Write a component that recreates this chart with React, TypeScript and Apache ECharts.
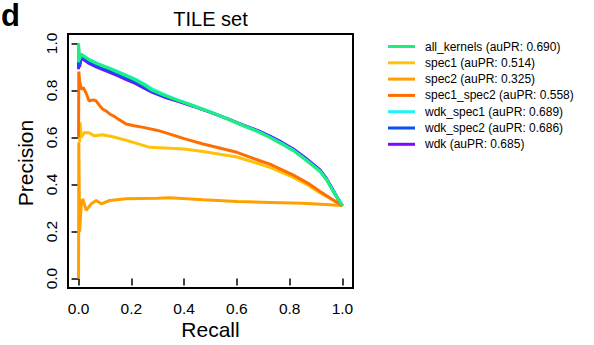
import React, { useEffect, useRef } from "react";
import * as echarts from "echarts";

const FONT = "'Liberation Sans', Arial, sans-serif";

const tickValues = [0, 0.2, 0.4, 0.6, 0.8, 1.0];

const seriesNames = [
  "all_kernels (auPR: 0.690)",
  "spec1 (auPR: 0.514)",
  "spec2 (auPR: 0.325)",
  "spec1_spec2 (auPR: 0.558)",
  "wdk_spec1 (auPR: 0.689)",
  "wdk_spec2 (auPR: 0.686)",
  "wdk (auPR: 0.685)",
];

const seriesColors = [
  "#1FEE7E",
  "#FFC20A",
  "#FFA000",
  "#FF6E00",
  "#22F4F4",
  "#0A50F5",
  "#7F0AFF",
];

// [recall, precision]
const allKernels = [
  [0, 0.92], [0, 1.0], [0.003, 0.93], [0.008, 0.955], [0.02, 0.945], [0.04, 0.93],
  [0.067, 0.915], [0.09, 0.905], [0.118, 0.893], [0.15, 0.877], [0.183, 0.861],
  [0.215, 0.845], [0.245, 0.826], [0.28, 0.8], [0.33, 0.777], [0.38, 0.757],
  [0.434, 0.735], [0.5, 0.708], [0.561, 0.68], [0.62, 0.652], [0.687, 0.621],
  [0.725, 0.6], [0.77, 0.572], [0.814, 0.544], [0.86, 0.505], [0.915, 0.455],
  [0.94, 0.42], [0.96, 0.38], [0.98, 0.345], [1.0, 0.31],
];

const spec1 = [
  [0.004, 0.58], [0.006, 0.664], [0.01, 0.6], [0.022, 0.621], [0.04, 0.62],
  [0.06, 0.607], [0.09, 0.612], [0.13, 0.603], [0.18, 0.588], [0.22, 0.575],
  [0.27, 0.558], [0.346, 0.554], [0.4, 0.551], [0.472, 0.54], [0.6, 0.517],
  [0.687, 0.487], [0.725, 0.473], [0.814, 0.43], [0.87, 0.397], [0.915, 0.364],
  [0.95, 0.343], [0.979, 0.324], [1.0, 0.31],
];

const spec2 = [
  [0, 0], [0.001, 0.58], [0.004, 0.2], [0.01, 0.31], [0.016, 0.339], [0.029, 0.29],
  [0.048, 0.318], [0.067, 0.332], [0.086, 0.318], [0.118, 0.332], [0.18, 0.339],
  [0.3, 0.342], [0.346, 0.344], [0.472, 0.335], [0.6, 0.328], [0.725, 0.324],
  [0.85, 0.32], [1.0, 0.311],
];

const spec1Spec2 = [
  [0, 0.6], [0.001, 0.88], [0.004, 0.84], [0.01, 0.805], [0.018, 0.812], [0.028, 0.79],
  [0.04, 0.755], [0.055, 0.76], [0.067, 0.755], [0.08, 0.735], [0.092, 0.72],
  [0.105, 0.712], [0.118, 0.7], [0.135, 0.69], [0.15, 0.678], [0.165, 0.668],
  [0.18, 0.657], [0.21, 0.65], [0.245, 0.643], [0.3, 0.63], [0.346, 0.614],
  [0.4, 0.595], [0.472, 0.572], [0.6, 0.537], [0.687, 0.501], [0.725, 0.487],
  [0.814, 0.44], [0.87, 0.405], [0.915, 0.37], [0.95, 0.345], [0.979, 0.325],
  [1.0, 0.31],
];

const wdkSpec1 = [
  [0, 0.92], [0, 0.99], [0.003, 0.93], [0.008, 0.955], [0.02, 0.947], [0.04, 0.932],
  [0.067, 0.917], [0.09, 0.907], [0.118, 0.895], [0.15, 0.88], [0.183, 0.864],
  [0.215, 0.848], [0.245, 0.83], [0.28, 0.806], [0.33, 0.78], [0.38, 0.758],
  [0.434, 0.736], [0.5, 0.709], [0.561, 0.681], [0.62, 0.653], [0.687, 0.622],
  [0.725, 0.601], [0.77, 0.574], [0.814, 0.545], [0.86, 0.507], [0.915, 0.457],
  [0.94, 0.421], [0.96, 0.381], [0.98, 0.345], [1.0, 0.31],
];

const wdkSpec2 = [
  [0, 0.9], [0, 0.97], [0.004, 0.91], [0.01, 0.945], [0.02, 0.936], [0.04, 0.921],
  [0.067, 0.906], [0.09, 0.896], [0.118, 0.883], [0.15, 0.868], [0.183, 0.851],
  [0.215, 0.836], [0.245, 0.817], [0.28, 0.796], [0.33, 0.773], [0.38, 0.755],
  [0.434, 0.734], [0.5, 0.708], [0.561, 0.681], [0.62, 0.654], [0.687, 0.624],
  [0.725, 0.604], [0.77, 0.577], [0.814, 0.548], [0.86, 0.51], [0.915, 0.46],
  [0.94, 0.423], [0.96, 0.383], [0.98, 0.345], [1.0, 0.31],
];

const wdk = [
  [0, 0.89], [0, 0.96], [0.004, 0.9], [0.01, 0.94], [0.02, 0.93], [0.04, 0.915],
  [0.067, 0.9], [0.09, 0.89], [0.118, 0.877], [0.15, 0.862], [0.183, 0.845],
  [0.215, 0.83], [0.245, 0.812], [0.28, 0.792], [0.33, 0.77], [0.38, 0.753],
  [0.434, 0.733], [0.5, 0.707], [0.561, 0.681], [0.62, 0.655], [0.687, 0.626],
  [0.725, 0.606], [0.77, 0.58], [0.814, 0.551], [0.86, 0.513], [0.915, 0.462],
  [0.94, 0.425], [0.96, 0.385], [0.98, 0.345], [1.0, 0.31],
];

// index into seriesNames / seriesColors, in drawing order (last on top)
const drawOrder: [number, number[][]][] = [
  [2, spec2],
  [1, spec1],
  [3, spec1Spec2],
  [6, wdk],
  [5, wdkSpec2],
  [4, wdkSpec1],
  [0, allKernels],
];

export default function App() {
  const ref = useRef<HTMLDivElement>(null);

  useEffect(() => {
    if (!ref.current) return;
    const chart = echarts.init(ref.current, null, { renderer: "svg" });

    const axisCommon = {
      type: "value" as const,
      min: -0.04,
      max: 1.04,
      splitLine: { show: false },
      axisLine: { show: false },
      axisTick: {
        show: true,
        inside: false,
        length: 7,
        customValues: tickValues,
        lineStyle: { color: "#000", width: 1.5 },
      },
    };

    chart.setOption({
      animation: false,
      backgroundColor: "#fff",
      grid: {
        left: 68,
        right: 241,
        top: 34,
        bottom: 57,
        show: true,
        borderColor: "#000",
        borderWidth: 2,
        backgroundColor: "transparent",
      },
      xAxis: {
        ...axisCommon,
        axisLabel: {
          customValues: tickValues,
          formatter: (v: number) => v.toFixed(1),
          color: "#000",
          fontSize: 15.5,
          fontFamily: FONT,
          margin: 12,
        },
      },
      yAxis: {
        ...axisCommon,
        axisLabel: {
          customValues: tickValues,
          formatter: (v: number) => v.toFixed(1),
          color: "#000",
          fontSize: 15.5,
          fontFamily: FONT,
          rotate: 90,
          margin: 9,
        },
      },
      legend: {
        orient: "vertical",
        left: 388,
        top: 40.5,
        padding: 0,
        icon: "rect",
        itemWidth: 27,
        itemHeight: 3,
        itemGap: 4.3,
        data: seriesNames,
        textStyle: {
          color: "#000",
          fontSize: 12,
          fontFamily: FONT,
          padding: [0, 0, 0, 5],
        },
        selectedMode: false,
      },
      graphic: [
        {
          type: "text",
          left: 1,
          top: 0,
          style: { text: "d", font: `bold 31px ${FONT}`, fill: "#000" },
        },
        {
          type: "text",
          x: 210.5,
          y: 18.5,
          style: {
            text: "TILE set",
            font: `20px ${FONT}`,
            fill: "#000",
            align: "center",
            verticalAlign: "middle",
          },
        },
        {
          type: "text",
          x: 210.5,
          y: 329,
          style: {
            text: "Recall",
            font: `21px ${FONT}`,
            fill: "#000",
            align: "center",
            verticalAlign: "middle",
          },
        },
        {
          type: "text",
          x: 25,
          y: 163,
          rotation: Math.PI / 2,
          style: {
            text: "Precision",
            font: `21px ${FONT}`,
            fill: "#000",
            align: "center",
            verticalAlign: "middle",
          },
        },
      ],
      series: drawOrder.map(([idx, data]) => ({
        name: seriesNames[idx],
        type: "line",
        data,
        showSymbol: false,
        symbol: "none",
        color: seriesColors[idx],
        lineStyle: { color: seriesColors[idx], width: 3 },
        itemStyle: { color: seriesColors[idx] },
        silent: true,
      })),
    });

    return () => chart.dispose();
  }, []);

  return (
    <div
      ref={ref}
      style={{ position: "fixed", left: 0, top: 0, width: 594, height: 345 }}
    />
  );
}
